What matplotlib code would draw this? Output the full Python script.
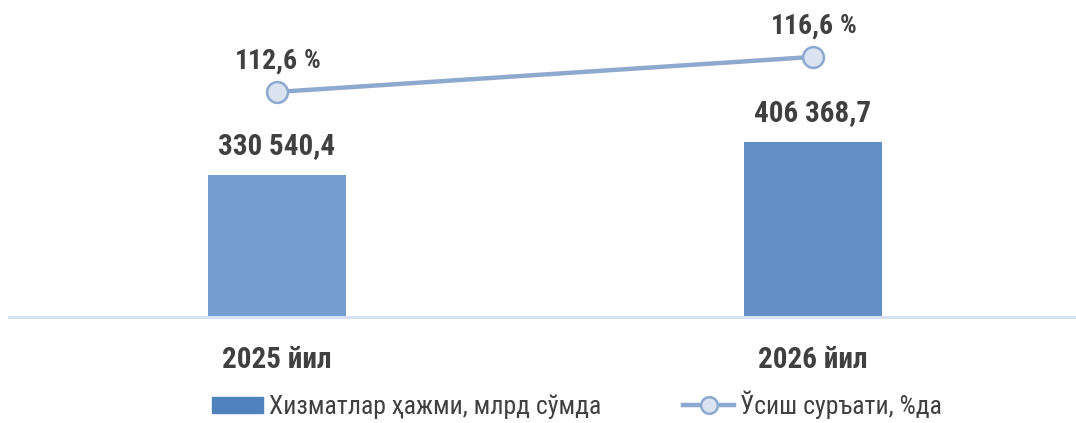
import matplotlib
matplotlib.use("Agg")
import matplotlib.pyplot as plt
from matplotlib.patches import Patch
from matplotlib.lines import Line2D

plt.rcParams['font.family'] = ['Roboto Condensed', 'Liberation Sans Narrow', 'DejaVu Sans']

years = ["2025 йил", "2026 йил"]
volume = [330540.4, 406368.7]
volume_lbl = ["330 540,4", "406 368,7"]
growth = [112.6, 116.6]
growth_lbl = ["112,6", "116,6"]
bar_cols = ["#739ECF", "#628FC5"]
TXT = "#404040"

fig = plt.figure(figsize=(10.76, 4.23), dpi=100)
ax = fig.add_axes([0.0084, 0.2506, 0.996, 0.7494])
x = list(range(len(years)))
ax.bar(x, volume, width=0.257, color=bar_cols, zorder=2)
ax.set_xlim(-0.5, 1.5); ax.set_ylim(0, 738000)
for s in ["top", "right", "left"]: ax.spines[s].set_visible(False)
ax.spines["bottom"].set_color("#D6E2F1"); ax.spines["bottom"].set_linewidth(2.2)
ax.set_yticks([])
ax.set_xticks(x); ax.set_xticklabels(years, fontsize=21, fontweight="bold", color=TXT)
ax.tick_params(axis="x", length=0, pad=21)
for xi, v, l in zip(x, volume, volume_lbl):
    ax.annotate(l, (xi, v), xytext=(0, 11), textcoords="offset points", ha="center", va="bottom",
                fontsize=21, fontweight="bold", color=TXT)

ax2 = ax.twinx()
ax2.set_ylim(86.9, 123.1); ax2.axis("off")
ax2.plot(x, growth, color="#8EA9D0", lw=3.2, marker="o", ms=15, mfc="#DAE3F0", mec="#8EA9D0", mew=1.8, zorder=3)
for xi, v, l in zip(x, growth, growth_lbl):
    ax2.annotate(l, (xi, v), xytext=(15, 17), textcoords="offset points", ha="right", va="baseline",
                 fontsize=20, fontweight="bold", color=TXT)
    ax2.annotate("%", (xi, v), xytext=(19.5, 17), textcoords="offset points", ha="left", va="baseline",
                 fontsize=19, fontweight="bold", color=TXT)

handles = [Patch(color="#5082BE"),
           Line2D([], [], color="#8EA9D0", lw=3.2, marker="o", ms=12, mfc="#DAE3F0", mec="#8EA9D0", mew=1.8)]
fig.legend(handles, ["Хизматлар ҳажми, млрд сўмда", "Ўсиш суръати, %да"], loc="lower center",
           bbox_to_anchor=(0.536, -0.045), ncol=2, frameon=False, fontsize=18.5, labelcolor=TXT,
           handlelength=2.0, handleheight=0.6, handletextpad=0.2, columnspacing=3.2)

fig.savefig("out.png", dpi=100)
